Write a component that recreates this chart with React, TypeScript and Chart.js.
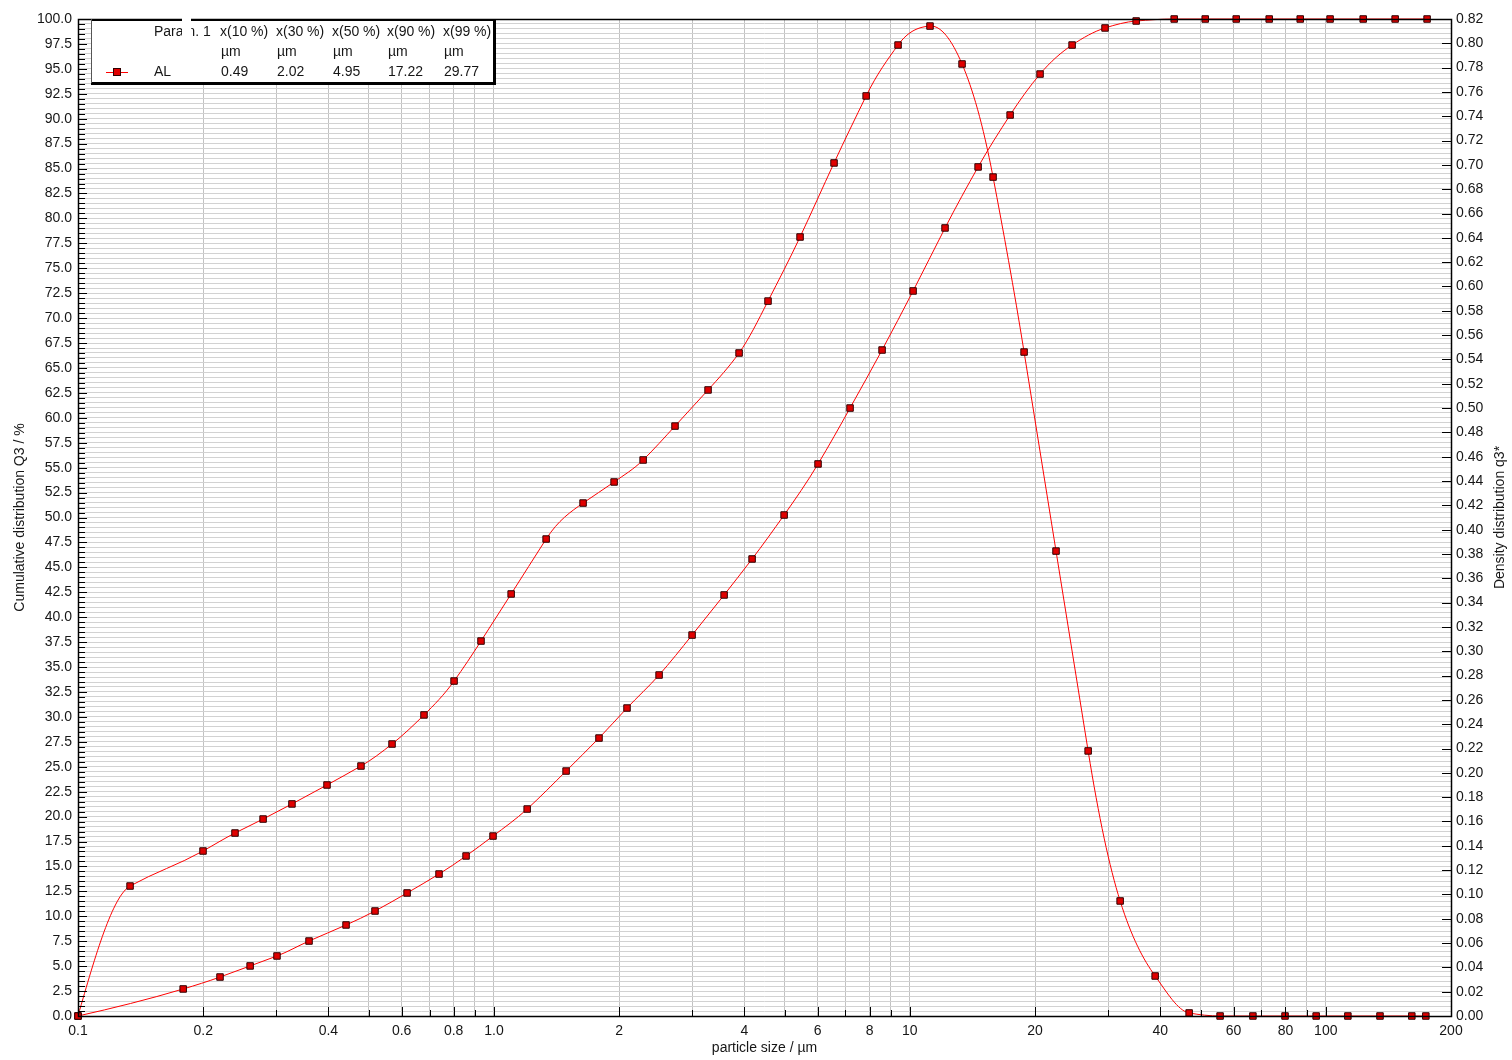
import React, { useEffect, useRef } from 'react';
import { Chart, registerables } from 'chart.js';
Chart.register(...registerables);

// Cumulative distribution Q3 (%)
const cumSizes = [0.1, 0.179, 0.2195, 0.2593, 0.3009, 0.3593, 0.441, 0.5177, 0.6183, 0.7379, 0.857, 0.995, 1.202, 1.491, 1.789, 2.089, 2.495, 2.995, 3.576, 4.175, 4.985, 6.015, 7.181, 8.574, 10.18, 12.15, 14.59, 17.42, 20.56, 24.55, 29.46, 35.0, 43.2, 51.3, 60.9, 73.1, 86.8, 102.4, 123, 146.8, 175.2];
const cumValues = [0, 2.71, 3.91, 5.02, 6.02, 7.52, 9.13, 10.53, 12.34, 14.24, 16.05, 18.05, 20.76, 24.57, 27.88, 30.89, 34.2, 38.21, 42.23, 45.84, 50.25, 55.37, 60.98, 66.8, 72.72, 79.04, 85.16, 90.37, 94.48, 97.39, 99.1, 99.8, 100, 100, 100, 100, 100, 100, 100, 100, 100];

// Density distribution q3*
const densSizes = [0.1, 0.1334, 0.1998, 0.2385, 0.2786, 0.3269, 0.3969, 0.479, 0.5689, 0.679, 0.802, 0.931, 1.1, 1.335, 1.638, 1.945, 2.284, 2.725, 3.272, 3.885, 4.56, 5.445, 6.572, 7.85, 9.367, 11.18, 13.35, 15.85, 18.82, 22.46, 26.83, 32.03, 38.88, 46.93, 55.7, 66.8, 79.8, 94.8, 113, 135, 161, 174];
const densValues = [0, 0.1069, 0.1357, 0.1505, 0.162, 0.1744, 0.19, 0.2056, 0.2237, 0.2476, 0.2755, 0.3084, 0.3471, 0.3923, 0.4219, 0.4392, 0.4573, 0.4852, 0.5149, 0.5453, 0.588, 0.6407, 0.7016, 0.7567, 0.7986, 0.8142, 0.783, 0.69, 0.5461, 0.3824, 0.218, 0.0946, 0.0329, 0.0025, 0, 0, 0, 0, 0, 0, 0, 0];

// x axis ticks (grid) and labels
const xTickValues = [0.1, 0.2, 0.3, 0.4, 0.5, 0.6, 0.7, 0.8, 0.9, 1, 2, 3, 4, 5, 6, 7, 8, 9, 10, 20, 30, 40, 50, 60, 70, 80, 90, 100, 200];
const xLabelValues = [0.1, 0.2, 0.4, 0.6, 0.8, 1, 2, 4, 6, 8, 10, 20, 40, 60, 80, 100, 200];
const xLabelTexts = ['0.1', '0.2', '0.4', '0.6', '0.8', '1.0', '2', '4', '6', '8', '10', '20', '40', '60', '80', '100', '200'];

// legend table
const legendHeaders = ['x(10 %)', 'x(30 %)', 'x(50 %)', 'x(90 %)', 'x(99 %)'];
const legendUnits = ['µm', 'µm', 'µm', 'µm', 'µm'];
const legendValues = ['0.49', '2.02', '4.95', '17.22', '29.77'];
const seriesName = 'AL';

const FONT = '"Liberation Sans", Arial, sans-serif';
const TXT = '#161616';
const LINE = '#ff0000';

// Akima spline through the pixel points that Chart.js placed
function drawAkima(ctx: CanvasRenderingContext2D, pts: { x: number; y: number }[]) {
  const n = pts.length;
  if (n < 2) return;
  const h: number[] = [];
  const d: number[] = [];
  for (let k = 0; k < n - 1; k++) {
    h.push(pts[k + 1].x - pts[k].x);
    d.push((pts[k + 1].y - pts[k].y) / (pts[k + 1].x - pts[k].x));
  }
  // extended slopes: index shift by 2
  const s: number[] = new Array(n + 3);
  for (let k = 0; k < n - 1; k++) s[k + 2] = d[k];
  const last = n + 1;
  s[1] = n > 2 ? 2 * s[2] - s[3] : s[2];
  s[0] = n > 2 ? 2 * s[1] - s[2] : s[2];
  s[last] = n > 2 ? 2 * s[last - 1] - s[last - 2] : s[last - 1];
  s[last + 1] = n > 2 ? 2 * s[last] - s[last - 1] : s[last - 1];
  const m: number[] = new Array(n);
  for (let i = 0; i < n; i++) {
    const dm2 = s[i], dm1 = s[i + 1], d0 = s[i + 2], d1 = s[i + 3];
    const w1 = Math.abs(d1 - d0);
    const w2 = Math.abs(dm1 - dm2);
    if (w1 + w2 < 1e-9) m[i] = (dm1 + d0) / 2;
    else m[i] = (w1 * dm1 + w2 * d0) / (w1 + w2);
  }
  ctx.beginPath();
  ctx.moveTo(pts[0].x, pts[0].y);
  for (let k = 0; k < n - 1; k++) {
    const hk = h[k] / 3;
    ctx.bezierCurveTo(
      pts[k].x + hk, pts[k].y + m[k] * hk,
      pts[k + 1].x - hk, pts[k + 1].y - m[k + 1] * hk,
      pts[k + 1].x, pts[k + 1].y,
    );
  }
  ctx.stroke();
}

const curvePlugin = {
  id: 'akimaCurves',
  beforeDatasetsDraw(chart: any) {
    const ctx = chart.ctx;
    ctx.save();
    ctx.strokeStyle = LINE;
    ctx.lineWidth = 1;
    chart.data.datasets.forEach((_: any, i: number) => {
      const meta = chart.getDatasetMeta(i);
      const pts = meta.data.map((p: any) => ({ x: p.x, y: p.y }));
      drawAkima(ctx, pts);
    });
    ctx.restore();
  },
};

const overlayPlugin = {
  id: 'overlay',
  afterDraw(chart: any) {
    const ctx = chart.ctx;
    const a = chart.chartArea;
    const xs = chart.scales.x;
    const yl = chart.scales.y;
    const yr = chart.scales.y1;
    ctx.save();
    ctx.strokeStyle = '#000';
    ctx.lineWidth = 1;
    ctx.beginPath();
    for (let i = 0; i <= 200; i++) {
      const y = Math.round(yl.getPixelForValue(i * 0.5)) + 0.5;
      const len = i % 5 === 0 ? 9 : 7;
      ctx.moveTo(a.left, y);
      ctx.lineTo(a.left + len, y);
    }
    for (let i = 0; i <= 41; i++) {
      const y = Math.round(yr.getPixelForValue(i * 0.02)) + 0.5;
      ctx.moveTo(a.right, y);
      ctx.lineTo(a.right - 9, y);
    }
    for (const v of xTickValues) {
      const x = Math.round(xs.getPixelForValue(v)) + 0.5;
      const len = xLabelValues.includes(v) ? 9 : 6;
      ctx.moveTo(x, a.bottom);
      ctx.lineTo(x, a.bottom - len);
    }
    ctx.stroke();
    ctx.lineWidth = 1.5;
    ctx.strokeRect(Math.round(a.left) + 0.5, Math.round(a.top) + 0.5, Math.round(a.right - a.left), Math.round(a.bottom - a.top));

    // legend box
    const bx = 91, by = 19, bw = 403, bh = 64;
    ctx.fillStyle = '#fff';
    ctx.fillRect(bx, by, bw, bh);
    ctx.fillStyle = '#000';
    ctx.fillRect(bx, by, bw, 2);
    ctx.fillRect(bx + bw - 1, by, 3, bh + 2);
    ctx.fillRect(bx, by + bh - 1, bw + 2, 3);
    ctx.fillStyle = '#555';
    ctx.fillRect(bx, by, 1, bh);

    ctx.font = '14px ' + FONT;
    ctx.fillStyle = TXT;
    ctx.textBaseline = 'middle';
    ctx.textAlign = 'left';
    ctx.fillText('Param. 1', 154, 32);
    const cols = [220, 276, 332, 387, 443];
    for (let i = 0; i < cols.length; i++) {
      ctx.fillText(legendHeaders[i], cols[i], 32);
      ctx.fillText(legendUnits[i], cols[i] + 1, 52);
      ctx.fillText(legendValues[i], cols[i] + 1, 72);
    }
    ctx.fillText(seriesName, 154, 72);
    ctx.fillStyle = '#fff';
    ctx.fillRect(182, 17, 9, 24);
    // legend marker
    ctx.strokeStyle = LINE;
    ctx.lineWidth = 1;
    ctx.beginPath();
    ctx.moveTo(106, 72.5);
    ctx.lineTo(128, 72.5);
    ctx.stroke();
    ctx.fillStyle = '#e00000';
    ctx.fillRect(114, 69, 7, 7);
    ctx.strokeStyle = '#300000';
    ctx.strokeRect(113.5, 68.5, 7, 7);

    // axis titles
    ctx.fillStyle = TXT;
    ctx.font = '14px ' + FONT;
    ctx.textAlign = 'center';
    ctx.textBaseline = 'middle';
    ctx.fillText('particle size / µm', (a.left + a.right) / 2, 1048);
    ctx.save();
    ctx.translate(20, (a.top + a.bottom) / 2);
    ctx.rotate(-Math.PI / 2);
    ctx.fillText('Cumulative distribution Q3 / %', 0, 0);
    ctx.restore();
    ctx.save();
    ctx.translate(1500, (a.top + a.bottom) / 2);
    ctx.rotate(-Math.PI / 2);
    ctx.fillText('Density distribution q3*', 0, 0);
    ctx.restore();
    ctx.restore();
  },
};

export default function App() {
  const ref = useRef<HTMLCanvasElement>(null);
  useEffect(() => {
    const cumData = cumSizes.map((x, i) => ({ x, y: cumValues[i] }));
    const densData = densSizes.map((x, i) => ({ x, y: densValues[i] }));
    const common = {
      borderColor: LINE,
      borderWidth: 1,
      showLine: false,
      pointStyle: 'rect',
      pointRadius: 4.6,
      pointBackgroundColor: '#e00000',
      pointBorderColor: '#300000',
      pointBorderWidth: 1,
      clip: false,
      fill: false,
    };
    const chart = new Chart(ref.current!, {
      type: 'line',
      data: {
        datasets: [
          { ...common, label: 'Q3', data: cumData, yAxisID: 'y' } as any,
          { ...common, label: 'q3', data: densData, yAxisID: 'y1' } as any,
        ],
      },
      options: {
        responsive: false,
        animation: false,
        devicePixelRatio: 1,
        layout: { padding: { top: 19, left: 0, right: 0, bottom: 0 } },
        plugins: { legend: { display: false }, tooltip: { enabled: false } },
        scales: {
          x: {
            type: 'logarithmic',
            position: 'bottom',
            min: 0.1,
            max: 200,
            afterFit: (s: any) => { s.height = 44; },
            afterBuildTicks: (s: any) => { s.ticks = xTickValues.map((v) => ({ value: v })); },
            grid: { color: '#c2c2c2', drawTicks: false, lineWidth: 1 },
            border: { display: false },
            ticks: {
              autoSkip: false,
              maxRotation: 0,
              minRotation: 0,
              padding: 7,
              color: TXT,
              font: { family: FONT, size: 14 },
              callback: (v: any) => {
                const idx = xLabelValues.findIndex((lv) => Math.abs(lv - v) / lv < 1e-6);
                return idx >= 0 ? xLabelTexts[idx] : '';
              },
            },
          },
          y: {
            type: 'linear',
            position: 'left',
            min: 0,
            max: 100,
            afterFit: (s: any) => { s.width = 78; },
            afterBuildTicks: (s: any) => {
              const t = [];
              for (let i = 0; i <= 200; i++) t.push({ value: i * 0.5 });
              s.ticks = t;
            },
            grid: { color: '#d2d2d2', drawTicks: false, lineWidth: 1 },
            border: { display: false },
            ticks: {
              autoSkip: false,
              padding: 6,
              color: TXT,
              font: { family: FONT, size: 14 },
              callback: (v: any) => {
                const i = Math.round(v * 2);
                return i % 5 === 0 ? (i / 2).toFixed(1) : '';
              },
            },
          },
          y1: {
            type: 'linear',
            position: 'right',
            min: 0,
            max: 0.82,
            afterFit: (s: any) => { s.width = 61; },
            afterBuildTicks: (s: any) => {
              const t = [];
              for (let i = 0; i <= 41; i++) t.push({ value: i * 0.02 });
              s.ticks = t;
            },
            grid: { drawOnChartArea: false, drawTicks: false },
            border: { display: false },
            ticks: {
              autoSkip: false,
              padding: 5,
              color: TXT,
              font: { family: FONT, size: 14 },
              callback: (v: any) => Number(v).toFixed(2),
            },
          },
        },
      },
      plugins: [curvePlugin, overlayPlugin],
    });
    return () => chart.destroy();
  }, []);
  return (
    <div style={{ position: 'fixed', left: 0, top: 0, width: 1512, height: 1060, background: '#fff' }}>
      <canvas ref={ref} width={1512} height={1060} style={{ display: 'block', width: 1512, height: 1060 }} />
    </div>
  );
}
